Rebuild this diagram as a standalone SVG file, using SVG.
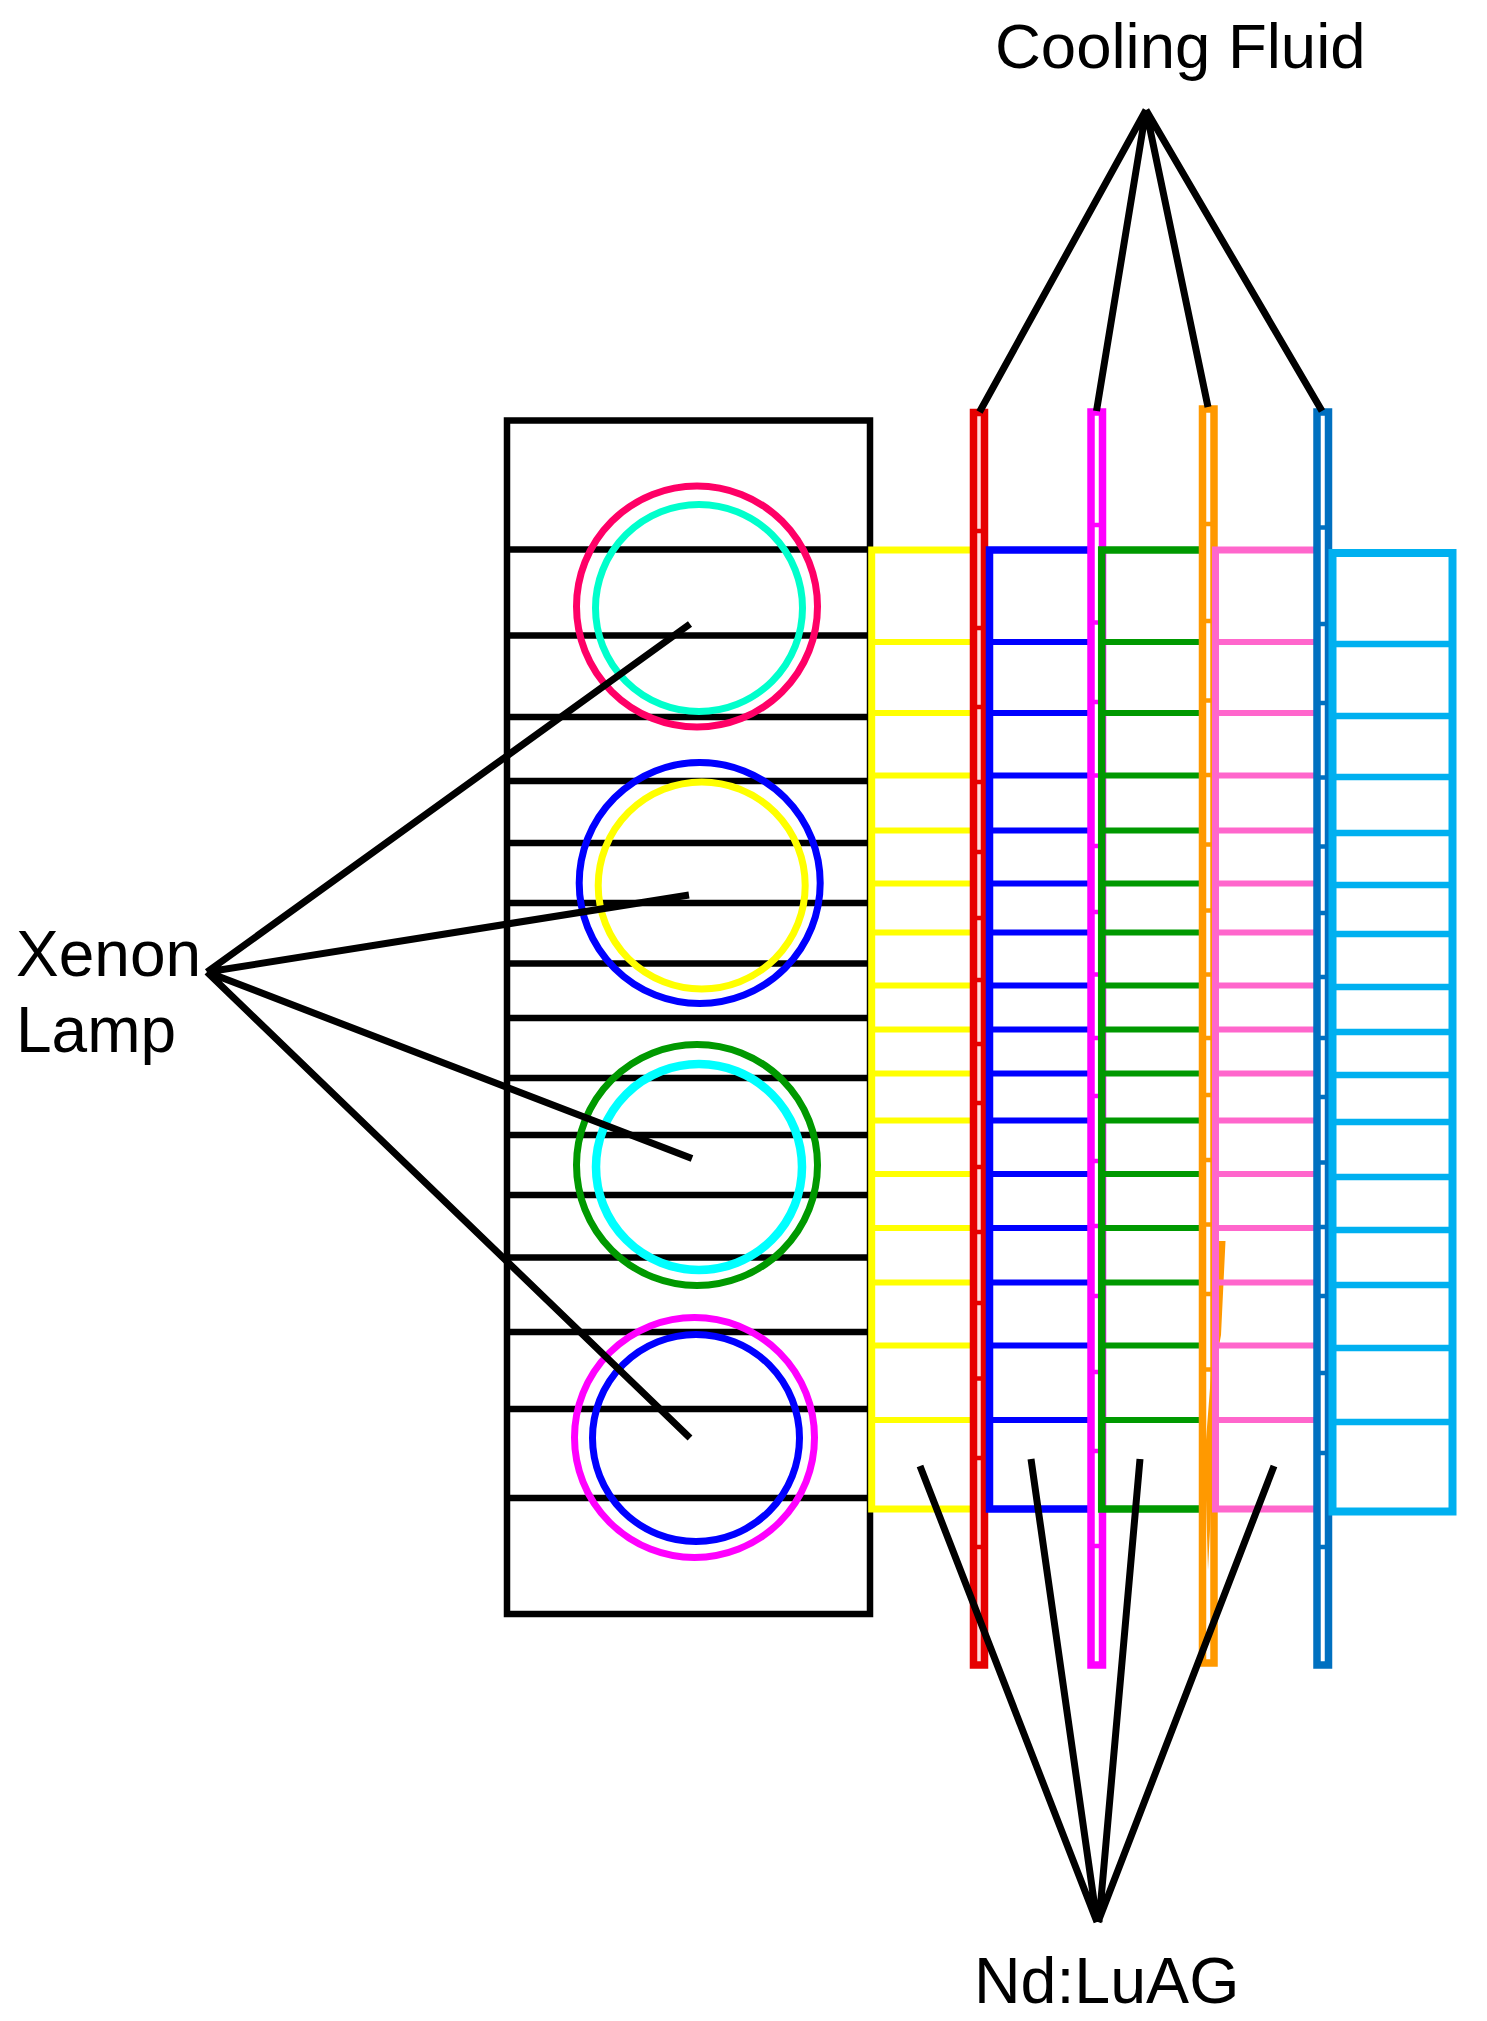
<svg xmlns="http://www.w3.org/2000/svg" xmlns:xlink="http://www.w3.org/1999/xlink" width="1487" height="2021" viewBox="0 0 1487 2021">
<style>
text{font-family:"Liberation Sans",Arial,sans-serif;font-size:64px;fill:#000}
.lad{fill:none;stroke-width:7}
.rg{fill:none;stroke-width:6}
.ch{fill:none;stroke-width:7.5}
.st{fill:none;stroke-width:4.5}
.ring{fill:none;stroke-width:7}
.blk{fill:none;stroke:#000;stroke-width:6.5}
.lead{fill:none;stroke:#000;stroke-width:7}
</style>
<defs>
<path id="rungs" d="M0,642h100M0,713h100M0,775.5h100M0,830.5h100M0,883.5h100M0,932.5h100M0,985.5h100M0,1029.5h100M0,1073.5h100M0,1120.5h100M0,1174h100M0,1228h100M0,1282.5h100M0,1345.5h100M0,1420h100"/>
</defs>
<rect width="1487" height="2021" fill="#fff"/>
<g id="lamp-housing">
<rect class="blk" x="507" y="420.5" width="363" height="1193.5"/>
<path class="blk" d="M510,549.5H868M510,635.5H868M510,717H868M510,781H868M510,843H868M510,903H868M510,963.5H868M510,1018H868M510,1078H868M510,1135H868M510,1195H868M510,1257.5H868M510,1332H868M510,1409H868M510,1498H868"/>
</g>
<g id="lamp-1"><circle class="ring" stroke="#FF0066" cx="697" cy="606.5" r="120.5"/><circle class="ring" stroke="#00FFCC" cx="699" cy="608" r="103.5"/></g>
<g id="lamp-2"><circle class="ring" stroke="#0000FF" cx="699.7" cy="883" r="120.5"/><circle class="ring" stroke="#FFFF00" cx="701.7" cy="885.5" r="103.5"/></g>
<g id="lamp-3"><circle class="ring" stroke="#009900" cx="697" cy="1165" r="120.5"/><circle class="ring" style="stroke-width:8.5" stroke="#00FFFF" cx="699" cy="1167" r="103"/></g>
<g id="lamp-4"><circle class="ring" stroke="#FF00FF" cx="694.5" cy="1437.5" r="120"/><circle class="ring" stroke="#0000FF" cx="696" cy="1438" r="103.5"/></g>
<g id="slab-yellow" stroke="#FFFF00">
<path class="lad" d="M972,550H871.7V1509H972"/>
<use xlink:href="#rungs" href="#rungs" class="rg" x="872"/>
</g>
<g id="channel-red" stroke="#E60000">
<rect class="ch" style="fill:#ffdcdc" x="973.5" y="412.5" width="11" height="1252.5"/>
<path class="st" d="M975,531h8M975,628h8M975,707h8M975,782h8M975,852h8M975,918h8M975,980h8M975,1044h8M975,1103h8M975,1167h8M975,1232h8M975,1303h8M975,1378.5h8M975,1458h8M975,1547h8"/>
</g>
<g id="slab-blue" stroke="#0000FF">
<path class="lad" style="stroke-width:7.5" d="M1090,550H989.5V1509H1090"/>
<use xlink:href="#rungs" href="#rungs" class="rg" x="990"/>
</g>
<g id="channel-magenta" stroke="#FF00FF">
<rect class="ch" x="1091" y="412" width="11.5" height="1253"/>
<path class="st" d="M1092,525h12M1092,622.5h12M1092,702h12M1092,775.5h12M1092,846h12M1092,912h12M1092,974.5h12M1092,1038h12M1092,1096h12M1092,1161h12M1092,1226h12M1092,1296h12M1092,1372h12M1092,1451h12M1092,1546h12"/>
</g>
<g id="slab-green" stroke="#009900">
<path class="lad" style="stroke-width:7.5" d="M1202,550H1101.7V1509H1202"/>
<use xlink:href="#rungs" href="#rungs" class="rg" x="1102"/>
</g>
<g id="channel-orange" stroke="#FF9900">
<rect class="ch" x="1202.5" y="409" width="11.5" height="1254"/>
<path class="st" d="M1204,524h12M1204,621h12M1204,700.5h12M1204,775h12M1204,844.5h12M1204,910.5h12M1204,974.5h12M1204,1038h12M1204,1095h12M1204,1160h12M1204,1224.5h12M1204,1294h12M1204,1369.5h12"/>
<path fill="#FF9900" stroke="none" d="M1211,1375L1206,1440V1500L1208,1570L1211.5,1500ZM1219,1241H1225.5L1221,1335L1219,1346Z"/>
</g>
<g id="slab-pink" stroke="#FF66CC">
<path class="lad" d="M1316,550H1215.5V1509H1316"/>
<use xlink:href="#rungs" href="#rungs" class="rg" x="1216"/>
</g>
<g id="channel-darkblue" stroke="#0070C0">
<rect class="ch" x="1317" y="412" width="11.5" height="1253"/>
<path class="st" d="M1318,527.5h13M1318,624h13M1318,703h13M1318,777.5h13M1318,846.5h13M1318,913h13M1318,977h13M1318,1038h13M1318,1097h13M1318,1162.5h13M1318,1227h13M1318,1296h13M1318,1373h13M1318,1453h13M1318,1547h13"/>
</g>
<g id="slab-lightblue" stroke="#00B0F0">
<rect class="lad" style="stroke-width:8" x="1332.5" y="553" width="120" height="958.5"/>
<path class="rg" style="stroke-width:6.5" d="M1332,644H1452M1332,716H1452M1332,777H1452M1332,833H1452M1332,885H1452M1332,934H1452M1332,987H1452M1332,1032H1452M1332,1075H1452M1332,1122H1452M1332,1177H1452M1332,1230H1452M1332,1285H1452M1332,1348H1452M1332,1422H1452"/>
</g>
<g id="connectors">
<path class="lead" d="M207,972L690,624M207,972L689,895M207,972L692,1158.5M207,972L690,1438"/>
<path class="lead" d="M1146,110L979.5,412M1146,110L1096.5,411M1146,110L1208,407M1146,110L1322,411"/>
<path class="lead" d="M920,1466L1097,1922M1031,1459L1097,1922M1140,1459L1099,1922M1274,1466L1098,1922"/>
</g>
<g id="label-cooling"><text style="font-size:63.5px" x="995" y="67.5">Cooling Fluid</text></g>
<g id="label-xenon"><text x="16" y="975.5">Xenon</text><text x="16" y="1051.5">Lamp</text></g>
<g id="label-ndluag"><text style="font-size:64.5px" x="974" y="2003">Nd:LuAG</text></g>
</svg>
